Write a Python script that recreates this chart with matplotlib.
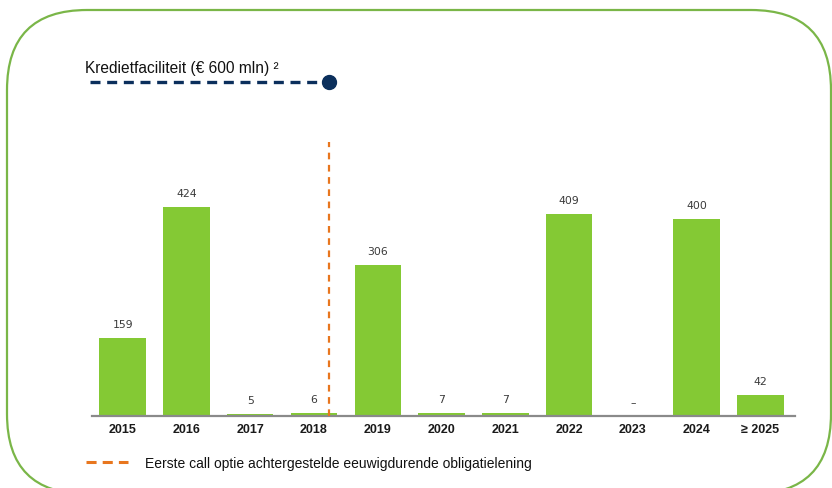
import numpy as np
import matplotlib
matplotlib.use("Agg")
import matplotlib.pyplot as plt
from matplotlib.patches import FancyBboxPatch
from matplotlib import transforms

# data
jaren = ["2015", "2016", "2017", "2018", "2019", "2020", "2021", "2022", "2023", "2024", "≥ 2025"]
bedragen = [159, 424, 5, 6, 306, 7, 7, 409, 0, 400, 42]
labels = ["159", "424", "5", "6", "306", "7", "7", "409", "–", "400", "42"]
call_positie = 3.24  # eerste call optie (in 2018)

groen = "#84c934"
rand_groen = "#7ab648"
oranje = "#e8761e"
navy = "#0b2f5c"

W, H = 832, 489
fig = plt.figure(figsize=(W / 100, H / 100), dpi=100)

# achtergrond-assen in pixels (y van onder naar boven)
bg = fig.add_axes([0, 0, 1, 1])
bg.set_xlim(0, W)
bg.set_ylim(0, H)
bg.axis("off")
rand = FancyBboxPatch((7, -6), 824, 484, boxstyle="round,pad=0,rounding_size=80",
                      fc="none", ec=rand_groen, lw=1.6, clip_on=False)
bg.add_patch(rand)

# grafiek
ax = fig.add_axes([92 / W, 1 - 417 / H, (795 - 92) / W, (417 - 143) / H])
x = np.arange(len(jaren))
ax.bar(x, bedragen, width=0.73, color=groen, zorder=2)
ax.set_xlim(-0.48, 10.54)
ax.set_ylim(0, 556)
for xi, v, lab in zip(x, bedragen, labels):
    ax.annotate(lab, (xi, v), xytext=(0, 9), textcoords="offset pixels",
                ha="center", va="bottom", fontsize=7.8, color="#3a3a3a",
                family="DejaVu Sans")
ax.set_xticks(x)
ax.set_xticklabels(jaren, fontsize=9, fontweight="bold", family="Liberation Sans",
                   color="#1a1a1a")
ax.tick_params(axis="x", length=0, pad=5)
ax.set_yticks([])
for s in ["top", "right", "left"]:
    ax.spines[s].set_visible(False)
ax.spines["bottom"].set_color("#8a8a8a")
ax.spines["bottom"].set_linewidth(1.6)
ax.patch.set_alpha(0)

# eerste call optie
ax.axvline(call_positie, ymin=0, ymax=1, color=oranje, lw=1.6,
           linestyle=(0, (3, 2.5)), zorder=3)

# kredietfaciliteit
tr = transforms.blended_transform_factory(ax.transData, bg.transData)
ax.plot([-0.51, call_positie], [H - 83, H - 83], transform=tr, color=navy, lw=2.4,
        linestyle=(0, (3, 2)), clip_on=False)
ax.plot([call_positie], [H - 83], transform=tr, marker="o", ms=10, color=navy,
        clip_on=False)
bg.text(85, H - 73, "Kredietfaciliteit (€ 600 mln) ²", fontsize=11.2,
        family="Liberation Sans", color="#111111", va="baseline", ha="left")

# legenda
bg.plot([86, 128], [H - 463, H - 463], color=oranje, lw=2.2, linestyle=(0, (3.3, 2)))
bg.text(145, H - 468, "Eerste call optie achtergestelde eeuwigdurende obligatielening",
        fontsize=10, family="Liberation Sans", color="#111111",
        va="baseline", ha="left")

fig.savefig("out.png", dpi=100)
